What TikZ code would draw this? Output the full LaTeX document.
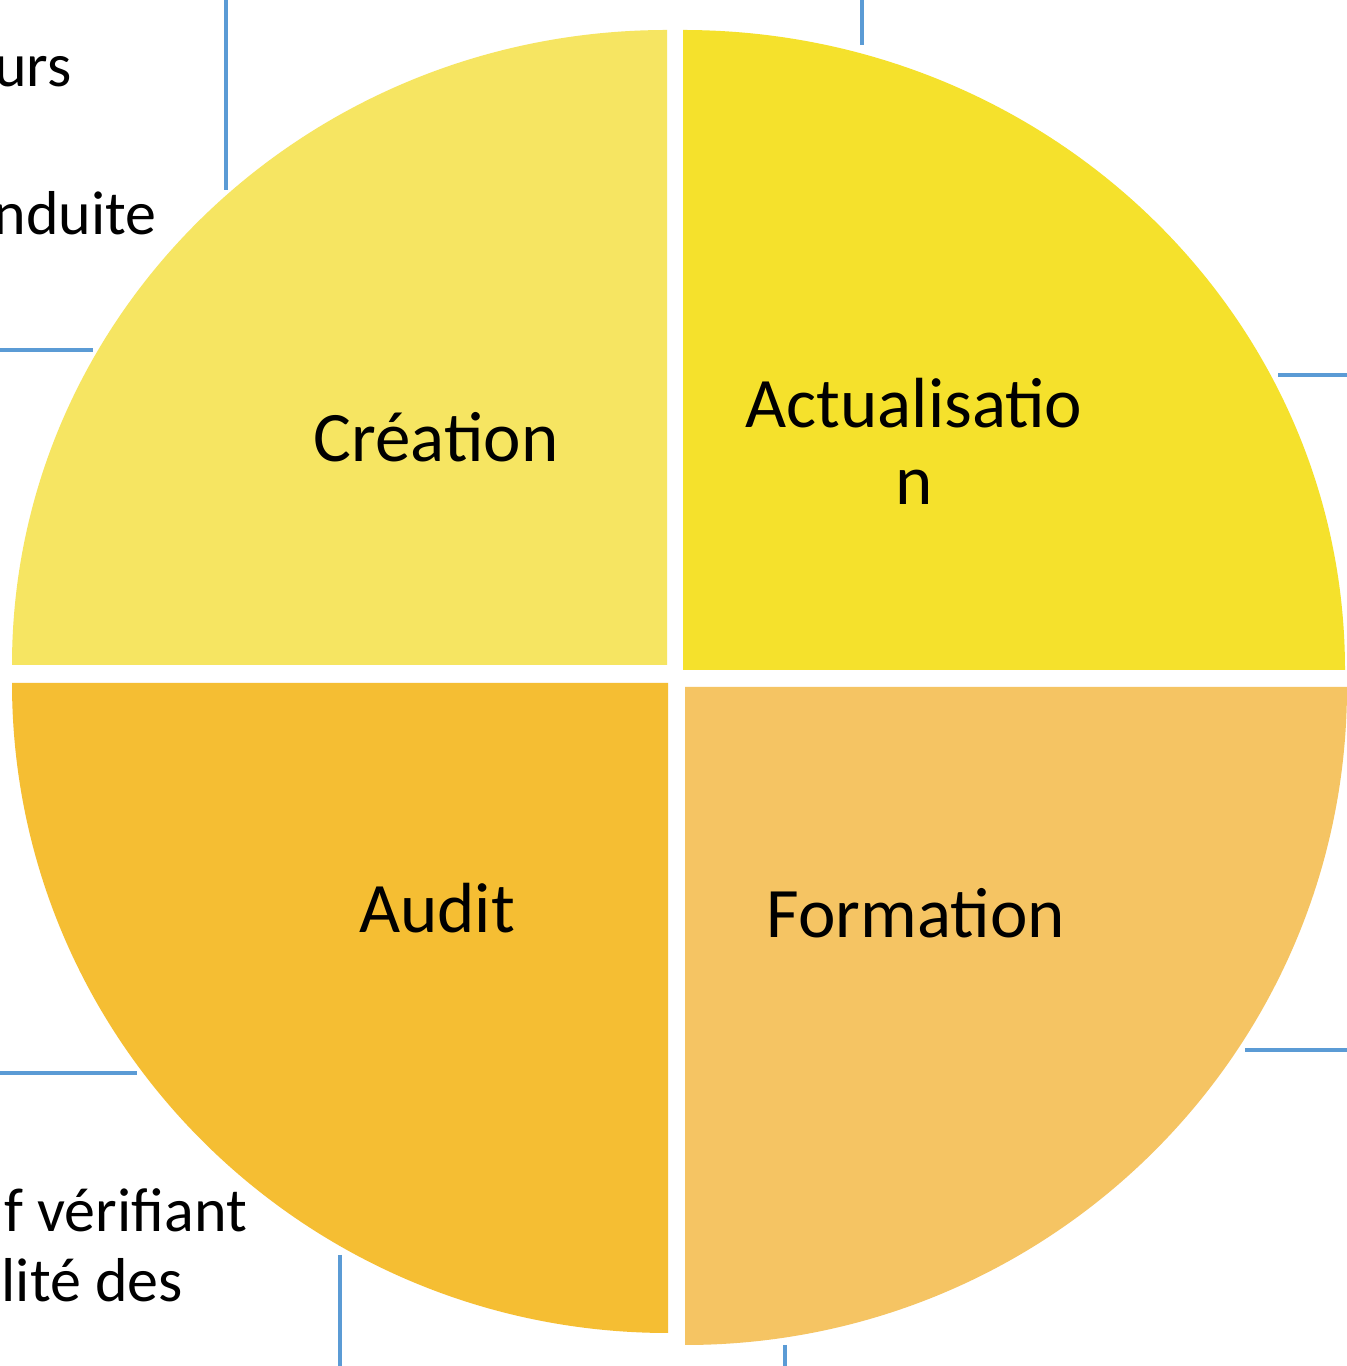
\documentclass[tikz,border=0pt]{standalone}
\usepackage{fontspec}
\setmainfont{Carlito}
\definecolor{qA}{HTML}{F6E562}
\definecolor{qB}{HTML}{F5E12C}
\definecolor{qC}{HTML}{F5BE33}
\definecolor{qD}{HTML}{F5C463}
\definecolor{boxline}{HTML}{5B9BD5}
\tikzset{
  frameline/.style={draw=boxline, line width=3.5pt},
  quadlabel/.style={font=\fontsize{71}{77}\selectfont, text=black, inner sep=0pt, anchor=base, align=center},
  sidetext/.style={font=\fontsize{62}{70}\selectfont, text=black, inner sep=0pt, anchor=base east}
}
\begin{document}
\begin{tikzpicture}[x=1pt,y=1pt]
\useasboundingbox (0,0) rectangle (1347,1366);
\clip (0,0) rectangle (1347,1366);
\fill[white] (0,0) rectangle (1347,1366);
% background box borders
\draw[frameline] (226,1370) -- (226,1176);
\draw[frameline] (-5,1016) -- (93,1016);
\draw[frameline] (862,1370) -- (862,1321);
\draw[frameline] (1278,991) -- (1352,991);
\draw[frameline] (-5,293) -- (137,293);
\draw[frameline] (340,111) -- (340,-5);
\draw[frameline] (1245,316) -- (1352,316);
\draw[frameline] (785,21) -- (785,-5);
% side text fragments
\node[sidetext] (t1) at (72,1279) {urs};
\node[sidetext] (t2) at (157,1131) {nduite};
\node[sidetext] (t3) at (247,134) {f vérifiant};
\node[sidetext] (t4) at (183,64) {lité des};
% quadrants
\fill[qA] (667,701) -- (12,701) arc[start angle=180, end angle=90, x radius=655, y radius=635] -- cycle;
\fill[qB] (683,696) -- (1345,696) arc[start angle=0, end angle=90, x radius=662, y radius=640] -- cycle;
\fill[qC] (668,683) -- (12,683) arc[start angle=180, end angle=270, x radius=656, y radius=650] -- cycle;
\fill[qD] (685,679) -- (1347,679) arc[start angle=0, end angle=-90, x radius=662, y radius=658] -- cycle;
% labels
\node[quadlabel] (creation) at (436,904) {Création};
\node[quadlabel] (actual) at (914,861) {Actualisatio\\n};
\node[quadlabel] (audit) at (437,433) {Audit};
\node[quadlabel] (formation) at (916,428) {Formation};
\end{tikzpicture}
\end{document}
